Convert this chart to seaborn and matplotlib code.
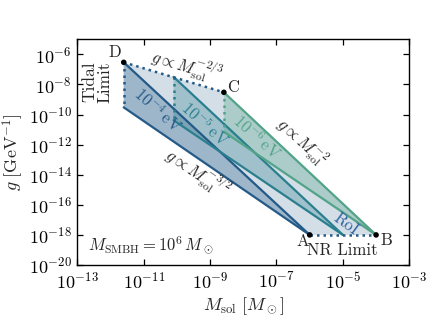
import numpy as np
import pandas as pd
import seaborn as sns
import matplotlib
matplotlib.use("Agg")
import matplotlib.pyplot as plt

# ---- data ----
masses_eV = ["$10^{-4}\\,\\mathrm{eV}$", "$10^{-5}\\,\\mathrm{eV}$", "$10^{-6}\\,\\mathrm{eV}$"]
# left vertical edge of each band (M_sol, g_top, g_bottom)
left_M = [2.5e-12, 7.9e-11, 2.6e-9]
left_g_top = [2.95e-7, 3.2e-8, 3.0e-9]
left_g_bot = [3.0e-10, 4.2e-11, 7.2e-12]
# convergence point on the NR limit
end_M = [1e-6, 1e-5, 1e-4]
end_g = [1e-18, 1e-18, 1e-18]

# RoI outline: D, C, B, A, D_bottom
roi_M = [2.5e-12, 2.6e-9, 1e-4, 1e-6, 2.5e-12]
roi_g = [2.95e-7, 3.0e-9, 1e-18, 1e-18, 3.0e-10]

point_names = ["D", "C", "A", "B"]
point_M = [2.5e-12, 2.6e-9, 1e-6, 1e-4]
point_g = [2.95e-7, 3.0e-9, 1e-18, 1e-18]

xticks = [1e-13, 1e-11, 1e-9, 1e-7, 1e-5, 1e-3]
yticks = [1e-20, 1e-18, 1e-16, 1e-14, 1e-12, 1e-10, 1e-8, 1e-6]

# ---- style ----
sns.set_theme(style="ticks")
plt.rcParams.update({
    "font.family": ["serif"],
    "font.serif": ["cmr10", "DejaVu Serif"],
    "mathtext.fontset": "cm",
    "axes.formatter.use_mathtext": True,
    "axes.unicode_minus": True,
})

colors = ["#245a87", "#2a7f8e", "#52a388"]
roi_color = "#245a87"

fig = plt.figure(figsize=(4.43, 3.32), dpi=100)
ax = fig.add_axes([0.1745, 0.2018, 0.9239 - 0.1745, 0.8816 - 0.2018])
ax.set_xscale("log")
ax.set_yscale("log")

# RoI fill
ax.fill(roi_M, roi_g, color=roi_color, alpha=0.2, lw=0, zorder=1)

for i in range(3):
    polyM = [left_M[i], end_M[i], left_M[i]]
    polyg = [left_g_top[i], end_g[i], left_g_bot[i]]
    ax.fill(polyM, polyg, color=colors[i], alpha=0.3, lw=0, zorder=2)
    df_top = pd.DataFrame({"M": [left_M[i], end_M[i]], "g": [left_g_top[i], end_g[i]]})
    df_bot = pd.DataFrame({"M": [left_M[i], end_M[i]], "g": [left_g_bot[i], end_g[i]]})
    sns.lineplot(data=df_top, x="M", y="g", ax=ax, color=colors[i], lw=1.6, zorder=3, sort=False)
    sns.lineplot(data=df_bot, x="M", y="g", ax=ax, color=colors[i], lw=1.6, zorder=3, sort=False)
    ax.plot([left_M[i], left_M[i]], [left_g_top[i], left_g_bot[i]], ls=(0, (1, 1.6)),
            color=colors[i], lw=1.8, zorder=4)

# dotted top (D-C) and NR limit (A-B)
ax.plot([roi_M[0], roi_M[1]], [roi_g[0], roi_g[1]], ls=(0, (1, 1.6)), color=roi_color, lw=1.8, zorder=4)
ax.plot([roi_M[3], roi_M[2]], [roi_g[3], roi_g[2]], ls=(0, (1, 1.6)), color=roi_color, lw=1.8, zorder=4)

sns.scatterplot(x=point_M, y=point_g, ax=ax, color="black", s=16, zorder=6, edgecolor="none")

ax.set_xlim(1e-13, 1e-3)
ax.set_ylim(1e-20, 1e-5)
ax.set_xticks(xticks)
ax.set_yticks(yticks)
ax.minorticks_off()
ax.tick_params(which="both", direction="in", top=True, right=True, length=4, width=0.9,
               labelsize=13, colors="black", pad=4)
for s in ax.spines.values():
    s.set_linewidth(1.0)
    s.set_color("black")

ax.set_xlabel("$M_{\\rm sol}\\ [M_\\odot]$", fontsize=13, labelpad=3)
ax.set_ylabel("$g\\ [\\mathrm{GeV}^{-1}]$", fontsize=13, labelpad=2)

fs = 12
# point labels
ax.text(10**-11.86, 10**-5.85, "D", fontsize=fs, ha="center", va="center")
ax.text(10**-8.31, 10**-8.17, "C", fontsize=fs, ha="center", va="center")
ax.text(10**-6.2, 10**-18.4, "A", fontsize=fs, ha="center", va="center")
ax.text(10**-3.7, 10**-18.34, "B", fontsize=fs, ha="center", va="center")
ax.text(10**-5.03, 10**-19.0, "NR Limit", fontsize=fs, ha="center", va="center")
ax.text(10**-12.4, 10**-7.84, "Tidal\nLimit", fontsize=12.5, ha="center", va="center",
        rotation=90, linespacing=1.0)
ax.text(10**-12.67, 10**-18.67, "$M_{\\rm SMBH} = 10^6\\,M_\\odot$", fontsize=fs,
        ha="left", va="center")

# slope labels
ax.text(10**-9.69, 10**-6.71, "$g \\propto M_{\\rm sol}^{-2/3}$", fontsize=fs,
        ha="center", va="center", rotation=-16.8, rotation_mode="anchor")
ax.text(10**-6.23, 10**-11.83, "$g \\propto M_{\\rm sol}^{-2}$", fontsize=fs,
        ha="center", va="center", rotation=-42.2, rotation_mode="anchor")
ax.text(10**-9.36, 10**-13.82, "$g \\propto M_{\\rm sol}^{-3/2}$", fontsize=fs,
        ha="center", va="center", rotation=-34.2, rotation_mode="anchor")

# band labels
band_lx = [-10.56, -9.14, -7.58]
band_ly = [-9.68, -10.61, -11.48]
for i in range(3):
    ax.text(10**band_lx[i], 10**band_ly[i], masses_eV[i], fontsize=fs, color=colors[i],
            ha="center", va="center", rotation=-42.2, rotation_mode="anchor")

ax.text(10**-4.9, 10**-17.3, "RoI", fontsize=fs, color="#2f62a0", ha="center", va="center",
        rotation=-36, rotation_mode="anchor")

fig.savefig("out.png", dpi=100)
